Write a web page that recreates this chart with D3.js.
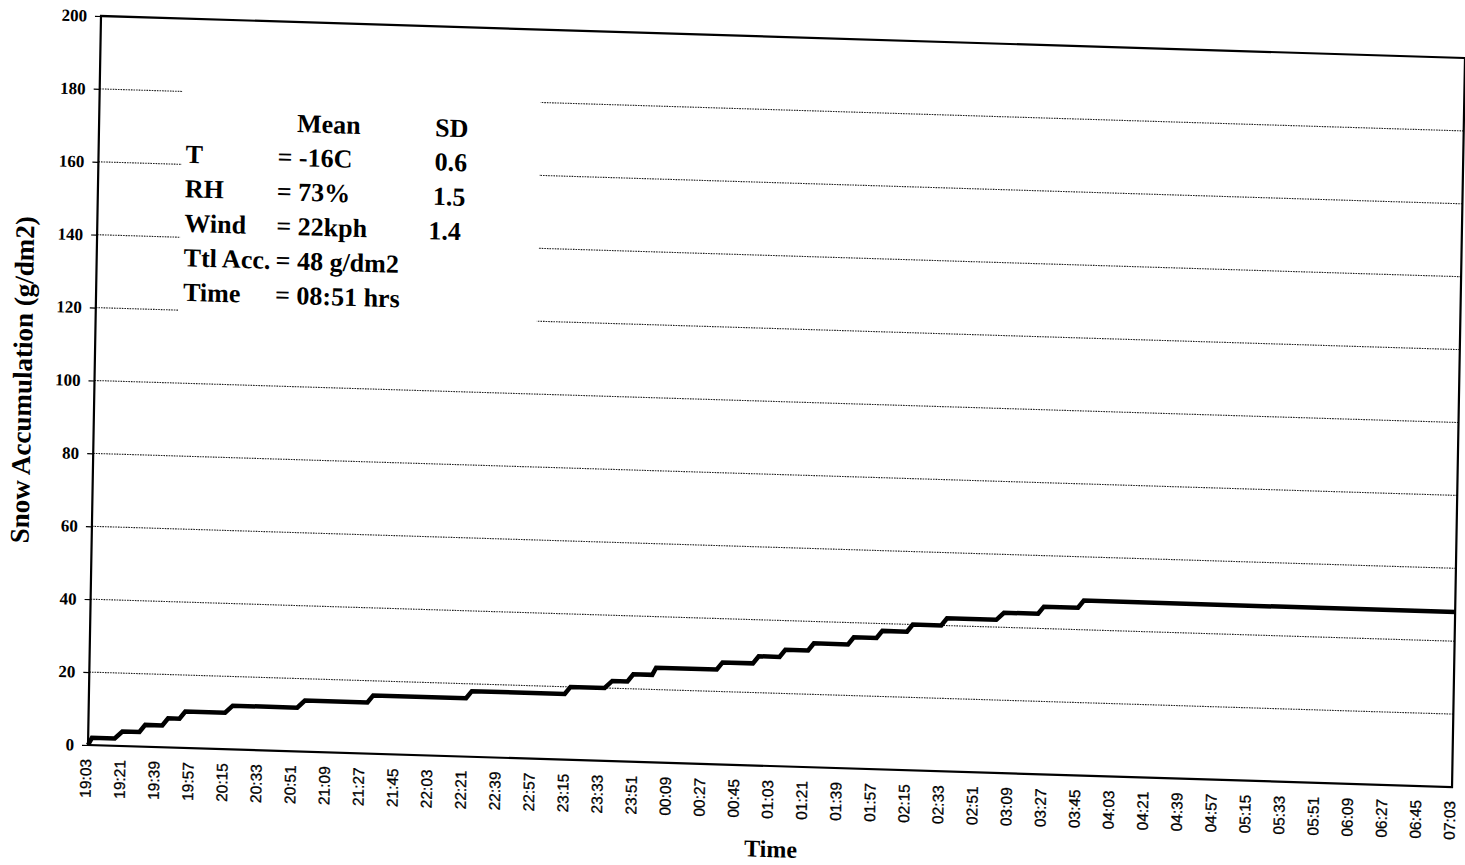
<!DOCTYPE html>
<html><head><meta charset="utf-8">
<script src="https://cdn.jsdelivr.net/npm/d3@7"></script>
<style>html,body{margin:0;background:#fff;} svg{display:block}</style>
</head><body><svg id="c" width="1465" height="865"></svg>
<script>
// ---- data ----
const xTickLabels = ["19:03","19:21","19:39","19:57","20:15","20:33","20:51","21:09","21:27","21:45",
  "22:03","22:21","22:39","22:57","23:15","23:33","23:51","00:09","00:27","00:45","01:03","01:21",
  "01:39","01:57","02:15","02:33","02:51","03:09","03:27","03:45","04:03","04:21","04:39","04:57",
  "05:15","05:33","05:51","06:09","06:27","06:45","07:03"];
const yTicks = [0,20,40,60,80,100,120,140,160,180,200];
const accTimes = ["19:03","19:05","19:17","19:21","19:30","19:33","19:42","19:45","19:51","19:54",
  "20:15","20:19","20:53","20:57","21:30","21:33","22:22","22:25","23:14","23:17","23:35","23:39",
  "23:47","23:50","00:00","00:02","00:34","00:37","00:53","00:56","01:07","01:10","01:22","01:25",
  "01:43","01:46","01:58","02:01","02:14","02:17","02:32","02:35","03:01","03:05","03:23","03:26",
  "03:44","03:47","07:03"];
const accValues = [0,2,2,4,4,6,6,8,8,10,10,12,12,14,14,16,16,18,18,20,20,22,22,24,24,26,26,28,28,30,
  30,32,32,34,34,36,36,38,38,40,40,42,42,44,44,46,46,48,48];
const statLabels = ["T","RH","Wind","Ttl Acc.","Time"];
const statMeans = ["= -16C","= 73%","= 22kph","= 48 g/dm2","= 08:51 hrs"];
const statSDs = ["0.6","1.5","1.4","",""];

// ---- helpers ----
function minutesFromStart(s){
  const [h,m] = s.split(":").map(Number);
  let t = h*60+m - (19*60+3);
  if (t < 0) t += 24*60;
  return t;
}

const W = 1364, H = 729;
const svg = d3.select("#c");
svg.append("rect").attr("width",1465).attr("height",865).attr("fill","#fff");
const g = svg.append("g").attr("transform","matrix(1,0.0308,-0.0178,1,101,16)");

const x = d3.scaleLinear().domain([0,720]).range([0,W]);
const y = d3.scaleLinear().domain([0,200]).range([H,0]);
const serif = "'Liberation Serif','Times New Roman',serif";

// gridlines
g.append("g").selectAll("line").data(yTicks.filter(v=>v>0 && v<200)).join("line")
  .attr("x1",0).attr("x2",W).attr("y1",d=>y(d)).attr("y2",d=>y(d))
  .attr("stroke","#222").attr("stroke-width",1.1).attr("stroke-dasharray","1.6,1");

// y axis
const yAxis = d3.axisLeft(y).tickValues(yTicks).tickSize(6).tickPadding(8).tickFormat(d3.format("d"));
const ya = g.append("g").call(yAxis);
ya.select(".domain").remove();
ya.selectAll(".tick line").attr("stroke","#000").attr("stroke-width",1.2);
ya.selectAll(".tick text").attr("font-family",serif).attr("font-weight","bold")
  .attr("font-size",17).attr("fill","#000");

// x axis labels
const xa = g.append("g").attr("transform",`translate(0,${H})`);
xa.selectAll("text").data(xTickLabels).join("text")
  .attr("transform",(d,i)=>`translate(${x(i*18)-2},14) rotate(-90)`)
  .attr("text-anchor","end").attr("dominant-baseline","central")
  .attr("font-family","'Liberation Sans',Arial,sans-serif").attr("font-size",15.5)
  .attr("stroke","#000").attr("stroke-width",0.3).attr("fill","#000")
  .text(d=>d);

// frame
g.append("rect").attr("x",0).attr("y",0).attr("width",W).attr("height",H)
  .attr("fill","none").attr("stroke","#000").attr("stroke-width",2.2);

// annotation box (white background hides gridlines)
g.append("rect").attr("x",83).attr("y",55).attr("width",358).attr("height",255).attr("fill","#fff");

const ann = g.append("g").attr("font-family",serif).attr("font-weight","bold")
  .attr("font-size",26).attr("fill","#000");
ann.append("text").attr("x",198).attr("y",110).text("Mean");
ann.append("text").attr("x",336).attr("y",110).text("SD");
const sdX = [336,335,331,336,336];
statLabels.forEach((lab,i)=>{
  const yy = 144 + i*34.5;
  ann.append("text").attr("x",87).attr("y",yy).text(lab);
  ann.append("text").attr("x",179).attr("y",yy).text(statMeans[i]);
  if (statSDs[i]) ann.append("text").attr("x",sdX[i]).attr("y",yy).text(statSDs[i]);
});

// data line
const pts = accTimes.map((t,i)=>[minutesFromStart(t), accValues[i]]);
const line = d3.line().x(d=>x(d[0])).y(d=>y(d[1]));
g.append("path").datum(pts).attr("d",line).attr("fill","none")
  .attr("stroke","#000").attr("stroke-width",4.5).attr("stroke-linejoin","miter");

// axis titles
g.append("text").attr("transform","translate(-63,366) rotate(-90)").attr("text-anchor","middle")
  .attr("font-family",serif).attr("font-weight","bold").attr("font-size",27).attr("fill","#000")
  .text("Snow Accumulation (g/dm2)");
g.append("text").attr("x",684).attr("y",820).attr("text-anchor","middle")
  .attr("font-family",serif).attr("font-weight","bold").attr("font-size",24).attr("fill","#000")
  .text("Time");
</script></body></html>
